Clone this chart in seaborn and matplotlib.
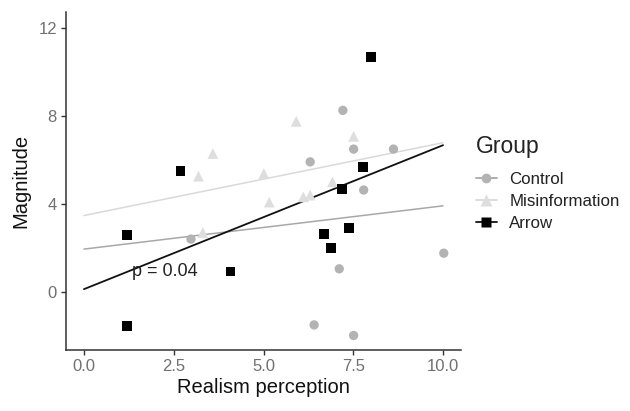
import numpy as np
import pandas as pd
import seaborn as sns
import matplotlib.pyplot as plt
from matplotlib.lines import Line2D

# values
control_x = [7.21, 6.30, 7.51, 8.62, 7.79, 2.98, 10.02, 7.11, 6.41, 7.51]
control_y = [8.26, 5.92, 6.50, 6.50, 4.64, 2.41, 1.77, 1.06, -1.49, -1.97]
misinfo_x = [3.59, 5.91, 7.51, 3.19, 5.01, 6.92, 5.16, 6.11, 6.30, 3.31]
misinfo_y = [6.30, 7.76, 7.08, 5.27, 5.39, 5.01, 4.09, 4.33, 4.41, 2.71]
arrow_x = [1.19, 1.19, 2.69, 4.08, 6.69, 6.88, 7.39, 7.19, 7.78, 7.99]
arrow_y = [-1.53, 2.60, 5.49, 0.94, 2.65, 2.00, 2.90, 4.68, 5.67, 10.67]

groups = ["Control", "Misinformation", "Arrow"]
fit_range = [0, 10]
x_ticks = [0.0, 2.5, 5.0, 7.5, 10.0]
y_ticks = [0, 4, 8, 12]

df = pd.DataFrame({
    "Realism perception": control_x + misinfo_x + arrow_x,
    "Magnitude": control_y + misinfo_y + arrow_y,
    "Group": ["Control"] * 10 + ["Misinformation"] * 10 + ["Arrow"] * 10,
})

sns.set_style("white")
plt.rcParams["font.family"] = ["Liberation Sans", "DejaVu Sans"]

colors = {"Control": "#b3b3b3", "Misinformation": "#dedede", "Arrow": "#000000"}
line_colors = {"Control": "#a8a8a8", "Misinformation": "#d9d9d9", "Arrow": "#111111"}
markers = {"Control": "o", "Misinformation": "^", "Arrow": "s"}
sizes = {"Control": 45, "Misinformation": 60, "Arrow": 50}

fig = plt.figure(figsize=(6.3, 4.11), dpi=100)
ax = fig.add_axes([66 / 630, 1 - 350 / 411, (461 - 66) / 630, (350 - 12) / 411])

# regression lines first, points on top
for g in groups:
    sub = df[df["Group"] == g]
    slope, intercept = np.polyfit(sub["Realism perception"], sub["Magnitude"], 1)
    xs = np.array(fit_range)
    ax.plot(xs, intercept + slope * xs, color=line_colors[g], lw=1.3 if g == "Arrow" else 1.1, zorder=2)

for g in groups:
    sub = df[df["Group"] == g]
    sns.scatterplot(data=sub, x="Realism perception", y="Magnitude", color=colors[g],
                    marker=markers[g], s=sizes[g], edgecolor="none", ax=ax, zorder=3)

ax.text(1.35, 0.72, "p = 0.04", fontsize=13, color="#222222")

ax.set_xlim(-0.5, 10.5)
ax.set_ylim(-2.63, 12.73)
ax.set_xticks(x_ticks)
ax.set_xticklabels([f"{t:.1f}" for t in x_ticks])
ax.set_yticks(y_ticks)
ax.tick_params(axis="both", bottom=True, left=True, colors="#333333", labelcolor="#707070",
               labelsize=12, length=3.5, width=1, pad=3)
ax.set_xlabel("Realism perception", fontsize=14.5, color="#111111", labelpad=3)
ax.set_ylabel("Magnitude", fontsize=14.5, color="#111111", labelpad=6)
sns.despine(ax=ax)
for s in ["left", "bottom"]:
    ax.spines[s].set_color("#333333")
    ax.spines[s].set_linewidth(1.1)

handles = [Line2D([0], [0], color=line_colors[g], marker=markers[g], markersize=7 if g != "Misinformation" else 8,
                  markerfacecolor=colors[g], markeredgecolor="none", lw=1.3) for g in groups]
leg = fig.legend(handles, groups, title="Group", loc="upper left", bbox_to_anchor=(461 / 630, 1 - 120 / 411),
                 frameon=False, fontsize=12.2, title_fontsize=16.5, handlelength=1.2, handletextpad=0.75,
                 labelspacing=0.4)
leg._legend_box.align = "left"
leg._legend_box.sep += 5
for t in leg.get_texts():
    t.set_color("#222222")
leg.get_title().set_color("#222222")

fig.savefig("out.png", dpi=100)
